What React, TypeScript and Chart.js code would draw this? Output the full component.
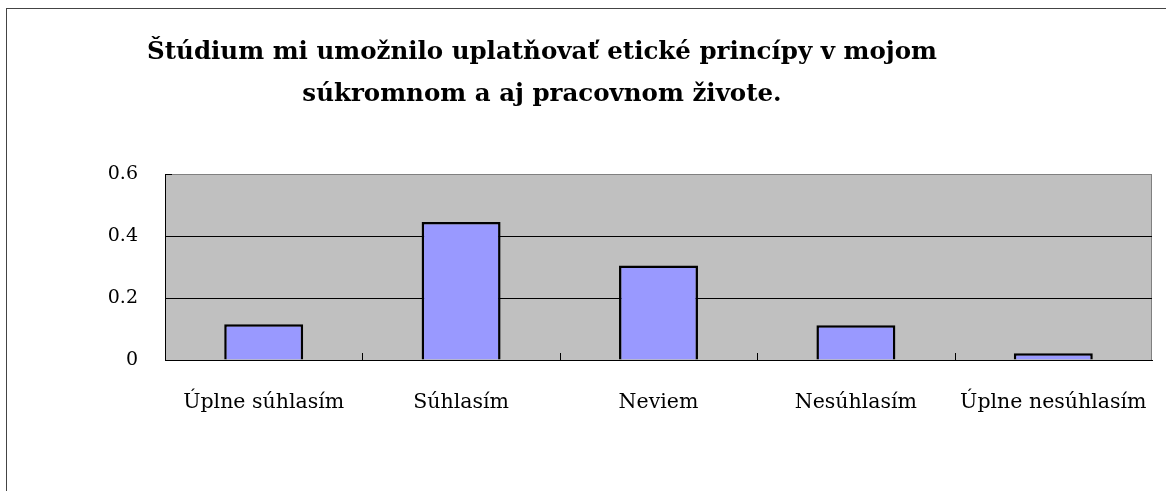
import React, { useEffect, useRef } from "react";
import { Chart, registerables } from "chart.js";

Chart.register(...registerables);

const categories = ["Úplne súhlasím", "Súhlasím", "Neviem", "Nesúhlasím", "Úplne nesúhlasím"];
const values = [0.115, 0.445, 0.305, 0.112, 0.022];
const yTicks = [0, 0.2, 0.4, 0.6];
const titleLines = [
  "Štúdium mi umožnilo uplatňovať etické princípy v mojom",
  "súkromnom a aj pracovnom živote.",
];

const FONT = "'DejaVu Serif', serif";

const decorPlugin = {
  id: "decor",
  beforeDraw(chart: any) {
    const { ctx, chartArea: a } = chart;
    ctx.save();
    ctx.fillStyle = "#C0C0C0";
    ctx.fillRect(a.left, a.top, a.right - a.left, a.bottom - a.top);
    ctx.strokeStyle = "#808080";
    ctx.lineWidth = 1;
    ctx.strokeRect(a.left + 0.5, a.top + 0.5, a.right - a.left - 1, a.bottom - a.top);
    ctx.restore();
  },
  afterDraw(chart: any) {
    const { ctx, chartArea: a } = chart;
    const xs = chart.scales.x;
    const ys = chart.scales.y;
    ctx.save();
    ctx.strokeStyle = "#000";
    ctx.lineWidth = 1;
    for (let i = 1; i < categories.length; i++) {
      const x = Math.round((xs.getPixelForValue(i - 1) + xs.getPixelForValue(i)) / 2) + 0.5;
      ctx.beginPath();
      ctx.moveTo(x, a.bottom);
      ctx.lineTo(x, a.bottom - 7);
      ctx.stroke();
    }
    for (const v of yTicks) {
      const y = Math.round(ys.getPixelForValue(v)) + 0.5;
      ctx.beginPath();
      ctx.moveTo(a.left, y);
      ctx.lineTo(a.left + 7, y);
      ctx.stroke();
    }
    ctx.fillStyle = "#000";
    ctx.font = `bold 24.5px ${FONT}`;
    ctx.textAlign = "center";
    ctx.textBaseline = "alphabetic";
    const cx = 535;
    ctx.fillText(titleLines[0], cx, 50);
    ctx.fillText(titleLines[1], cx, 92);
    ctx.restore();
  },
};

export default function App() {
  const ref = useRef<HTMLCanvasElement | null>(null);
  useEffect(() => {
    if (!ref.current) return;
    const chart = new Chart(ref.current, {
      type: "bar",
      data: {
        labels: categories,
        datasets: [
          {
            data: values,
            backgroundColor: "#9999FF",
            borderColor: "#000000",
            borderWidth: 2.5,
            barPercentage: 0.4,
            categoryPercentage: 1.0,
          },
        ],
      },
      options: {
        animation: false,
        responsive: false,
        maintainAspectRatio: false,
        layout: { padding: { left: 98, top: 165, right: 14, bottom: 31 } },
        plugins: {
          legend: { display: false },
          title: { display: false },
          tooltip: { enabled: false },
        },
        scales: {
          x: {
            afterFit: (s: any) => {
              s.height = 100;
              s.paddingLeft = 0;
              s.paddingRight = 0;
            },
            grid: { display: false, drawTicks: false },
            border: { display: true, color: "#000", width: 1 },
            ticks: {
              autoSkip: false,
              maxRotation: 0,
              minRotation: 0,
              padding: 30,
              color: "#000",
              font: { family: FONT, size: 20.5 },
            },
          },
          y: {
            min: 0,
            max: 0.6,
            afterFit: (s: any) => {
              s.width = 60;
              s.paddingTop = 0;
              s.paddingBottom = 0;
            },
            afterBuildTicks: (s: any) => {
              s.ticks = yTicks.map((v) => ({ value: v }));
            },
            grid: {
              drawTicks: false,
              color: (c: any) => (c.tick && (c.tick.value === 0.6 || c.tick.value === 0) ? "rgba(0,0,0,0)" : "#000"),
              lineWidth: 1,
            },
            border: { display: true, color: "#000", width: 1 },
            ticks: {
              padding: 27,
              color: "#000",
              font: { family: FONT, size: 19 },
              callback: (v: any) => String(Number(v)),
            },
          },
        },
      },
      plugins: [decorPlugin],
    });
    return () => chart.destroy();
  }, []);
  return (
    <div
      style={{
        position: "absolute",
        left: 6,
        top: 8,
        width: 1160,
        height: 483,
        borderLeft: "1px solid #444",
        borderTop: "1px solid #444",
        boxSizing: "border-box",
        background: "#fff",
      }}
    >
      <canvas ref={ref} width={1159} height={482} style={{ display: "block" }} />
    </div>
  );
}
